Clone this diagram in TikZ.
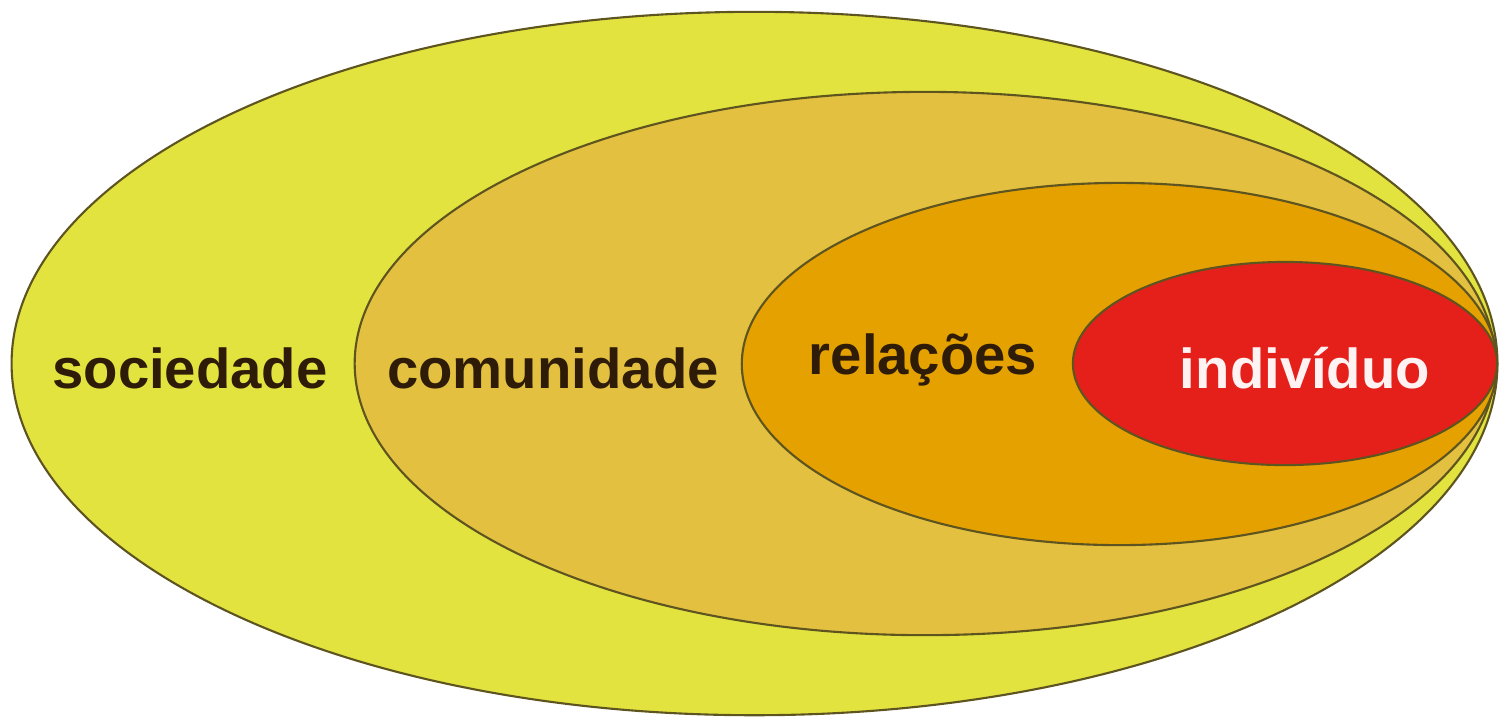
\documentclass[tikz,border=0pt]{standalone}
\usepackage{fontspec}
\setmainfont{Liberation Sans}
\usetikzlibrary{shapes.geometric, positioning}
\definecolor{socyellow}{HTML}{E2E33E}
\definecolor{comgold}{HTML}{E3C040}
\definecolor{relorange}{HTML}{E4A100}
\definecolor{indred}{HTML}{E5201A}
\definecolor{rimline}{HTML}{5E5420}
\definecolor{labeltext}{HTML}{2E1C08}
\tikzset{
  ring/.style  = {ellipse, draw=rimline, line width=0.6pt, inner sep=0pt},
  word/.style  = {font=\fontsize{16}{18}\selectfont\bfseries, text=labeltext, inner sep=0pt},
}

\begin{document}
\begin{tikzpicture}[x=0.01cm, y=-0.01cm]
        \useasboundingbox (0,0) rectangle (1500,720);

        \node[ring, fill=socyellow, minimum width=14.85cm, minimum height=7.03cm]  (sociedade)  at (754.5,363.5) {};
        \node[ring, fill=comgold,   minimum width=11.40cm, minimum height=5.43cm]  (comunidade) at (925,363.5)   {};
        \node[ring, fill=relorange, minimum width=7.55cm,  minimum height=3.62cm]  (relacoes)   at (1119.5,364)  {};
        \node[ring, fill=indred,    minimum width=4.24cm,  minimum height=2.03cm]  (individuo)  at (1285,363.5)  {};

        \node[word] (socText) at (190,368)  {sociedade};
        \node[word] (comText) at (553,368)  {comunidade};
        \node[word] (relText) at (923,360)  {relações};
        \node[word, text=white!95!red] (indText) at (1305,368) {indivíduo};

        \end{tikzpicture}
\end{document}
